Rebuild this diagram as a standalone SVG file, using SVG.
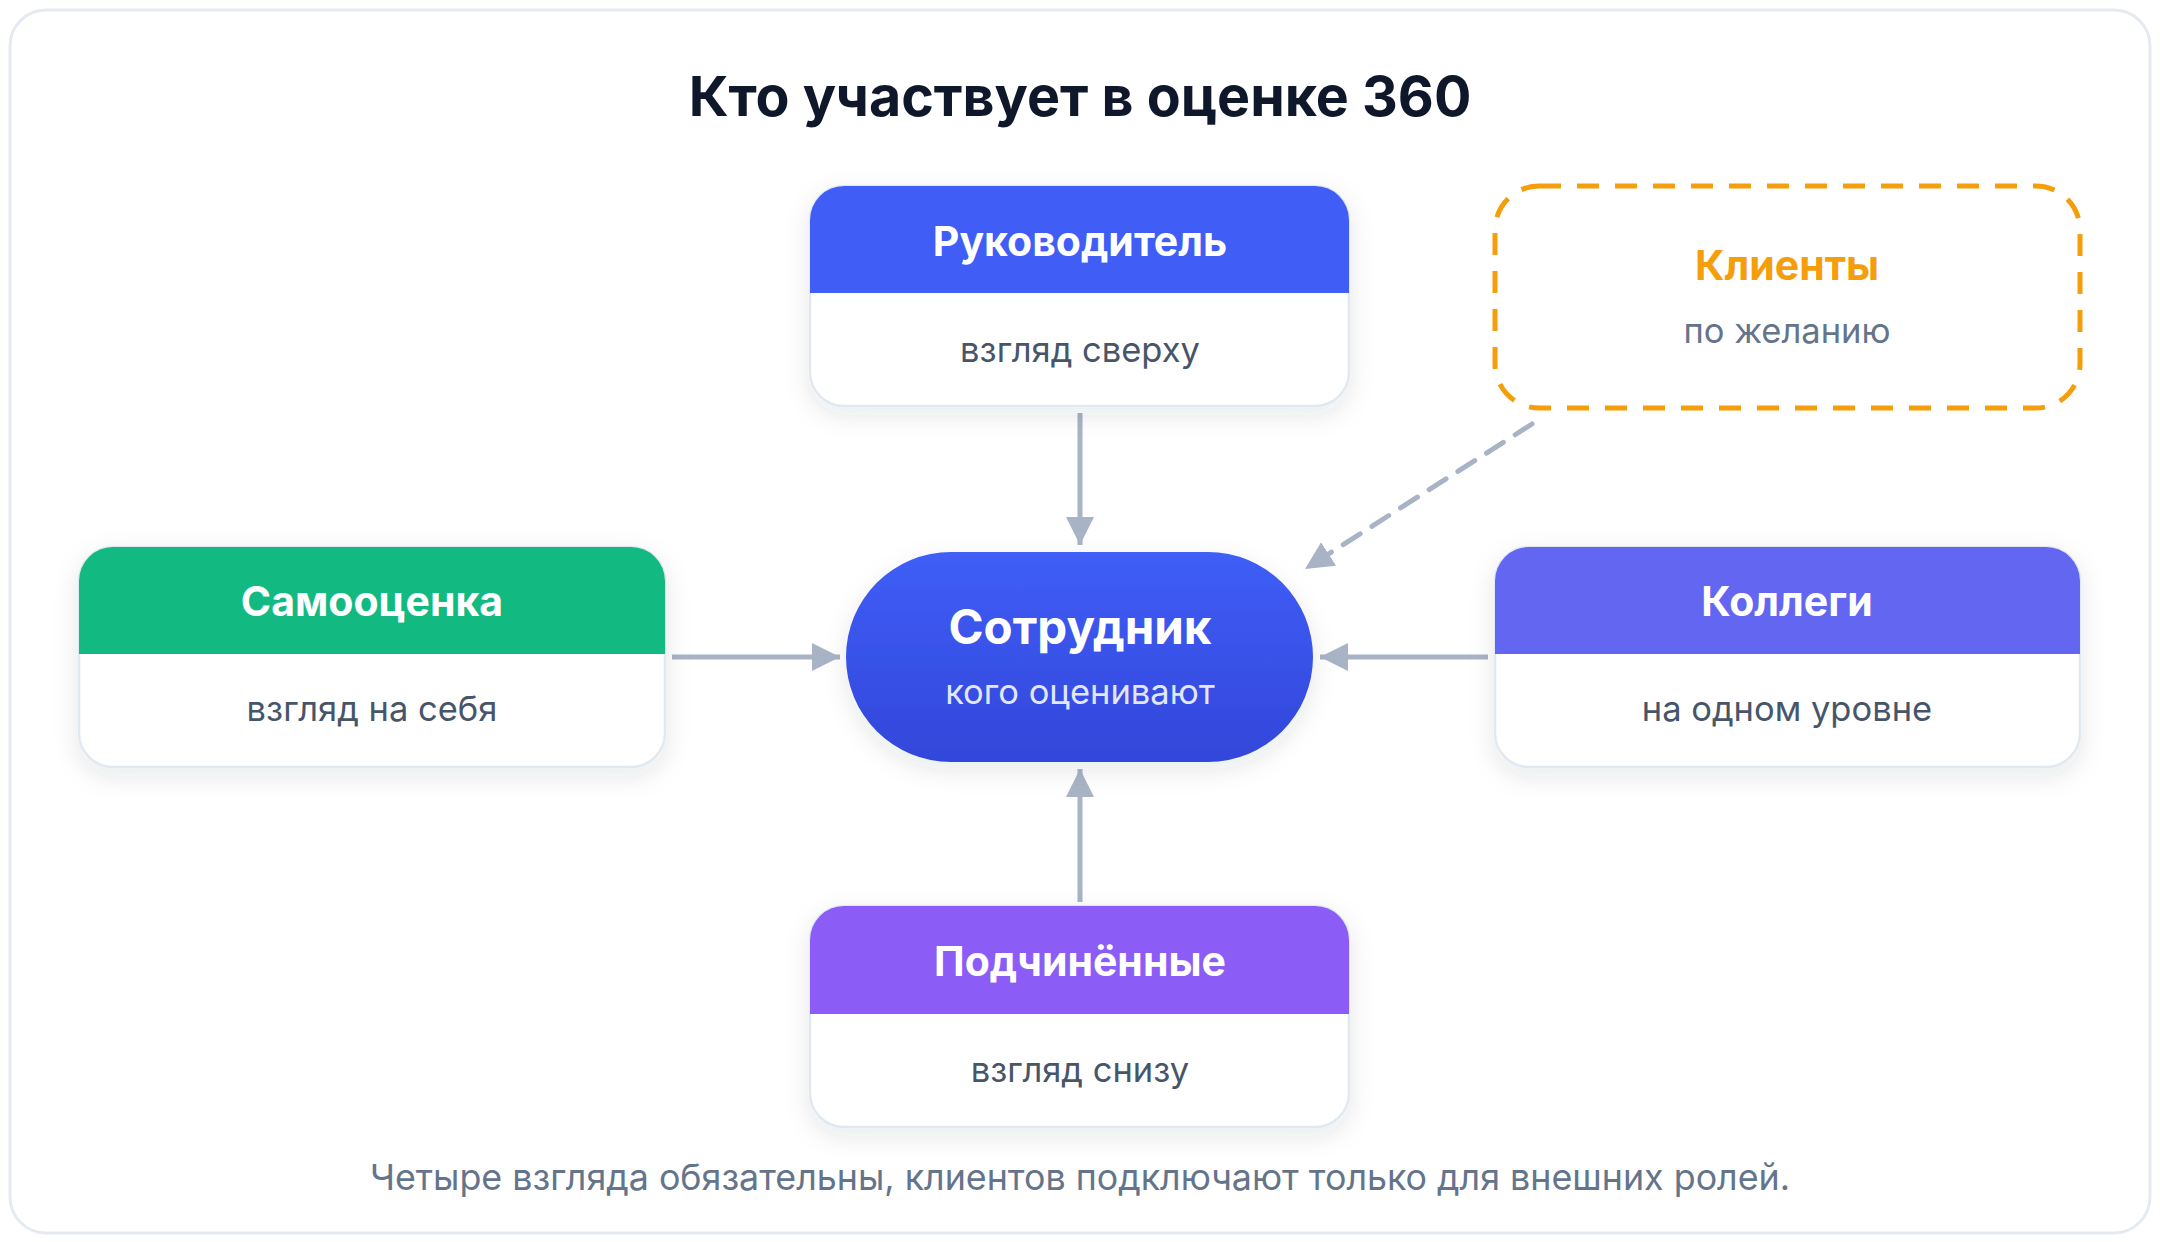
<svg xmlns="http://www.w3.org/2000/svg" width="2160" height="1242" viewBox="0 0 2160 1242">
<defs>
<filter id="sh" x="-20%" y="-20%" width="140%" height="150%">
<feDropShadow dx="0" dy="8" stdDeviation="12" flood-color="#1e293b" flood-opacity="0.10"/>
</filter>
<linearGradient id="pill" x1="0" y1="0" x2="0" y2="1">
<stop offset="0" stop-color="#3F5EF6"/>
<stop offset="1" stop-color="#3346DA"/>
</linearGradient>
<marker id="ah" viewBox="0 0 10 10" refX="10" refY="5" markerWidth="28" markerHeight="28" markerUnits="userSpaceOnUse" orient="auto">
<path d="M0,0 L10,5 L0,10 Z" fill="#A8B3C6"/>
</marker>
<style>
.card{fill:#ffffff;stroke:#E2E8F0;stroke-width:2.5;}
.hd{font-family:Inter,"Noto Sans",sans-serif;font-weight:700;font-size:41px;fill:#ffffff;text-anchor:middle;dominant-baseline:central;}
.bd{font-family:Inter,"Noto Sans",sans-serif;font-weight:400;font-size:34.5px;fill:#475569;text-anchor:middle;dominant-baseline:central;}
.conn{stroke:#A8B3C6;stroke-width:5;fill:none;}
</style>
</defs>
<rect x="0" y="0" width="2160" height="1242" fill="#ffffff"/>
<rect x="10" y="10" width="2140" height="1223" rx="36" fill="#ffffff" stroke="#E5EAF2" stroke-width="3"/>
<text x="1080" y="95" font-family="Inter,'Noto Sans',sans-serif" font-weight="700" font-size="55.5" fill="#0F172A" text-anchor="middle" dominant-baseline="central">Кто участвует в оценке 360</text>

<g id="connectors">
<line class="conn" x1="1080" y1="413" x2="1080" y2="545" marker-end="url(#ah)"/>
<line class="conn" x1="672" y1="657" x2="840" y2="657" marker-end="url(#ah)"/>
<line class="conn" x1="1488" y1="657" x2="1320" y2="657" marker-end="url(#ah)"/>
<line class="conn" x1="1080" y1="902" x2="1080" y2="769" marker-end="url(#ah)"/>
<line class="conn" x1="1532" y1="424" x2="1305" y2="569" stroke-dasharray="20 14" stroke-linecap="round" marker-end="url(#ah)"/>
</g>

<g id="node-manager">
<rect class="card" x="810" y="186" width="539" height="220" rx="34" filter="url(#sh)"/>
<path d="M810,293 V220 A34,34 0 0 1 844,186 H1315 A34,34 0 0 1 1349,220 V293 Z" fill="#405EF6"/>
<text class="hd" x="1080" y="241">Руководитель</text>
<text class="bd" x="1080" y="349">взгляд сверху</text>
</g>

<g id="node-clients">
<rect x="1495" y="186" width="585" height="222" rx="44" fill="#ffffff" stroke="#F59E0B" stroke-width="5" stroke-dasharray="22 16"/>
<text x="1787" y="265" font-family="Inter,'Noto Sans',sans-serif" font-weight="700" font-size="41" fill="#F59E0B" text-anchor="middle" dominant-baseline="central">Клиенты</text>
<text x="1787" y="330" font-family="Inter,'Noto Sans',sans-serif" font-size="34.5" fill="#64748B" text-anchor="middle" dominant-baseline="central">по желанию</text>
</g>

<g id="node-self">
<rect class="card" x="79" y="547" width="586" height="220" rx="34" filter="url(#sh)"/>
<path d="M79,654 V581 A34,34 0 0 1 113,547 H631 A34,34 0 0 1 665,581 V654 Z" fill="#12B981"/>
<text class="hd" x="372" y="601">Самооценка</text>
<text class="bd" x="372" y="708">взгляд на себя</text>
</g>

<g id="node-employee">
<rect x="846" y="552" width="467" height="210" rx="105" fill="url(#pill)" filter="url(#sh)"/>
<text x="1080" y="626" font-family="Inter,'Noto Sans',sans-serif" font-weight="700" font-size="47.5" fill="#ffffff" text-anchor="middle" dominant-baseline="central">Сотрудник</text>
<text x="1080" y="691" font-family="Inter,'Noto Sans',sans-serif" font-size="34.5" fill="#E0E7FF" text-anchor="middle" dominant-baseline="central">кого оценивают</text>
</g>

<g id="node-peers">
<rect class="card" x="1495" y="547" width="585" height="220" rx="34" filter="url(#sh)"/>
<path d="M1495,654 V581 A34,34 0 0 1 1529,547 H2046 A34,34 0 0 1 2080,581 V654 Z" fill="#6366F1"/>
<text class="hd" x="1787" y="601">Коллеги</text>
<text class="bd" x="1787" y="708">на одном уровне</text>
</g>

<g id="node-subordinates">
<rect class="card" x="810" y="906" width="539" height="221" rx="34" filter="url(#sh)"/>
<path d="M810,1014 V940 A34,34 0 0 1 844,906 H1315 A34,34 0 0 1 1349,940 V1014 Z" fill="#8B5CF6"/>
<text class="hd" x="1080" y="961">Подчинённые</text>
<text class="bd" x="1080" y="1069">взгляд снизу</text>
</g>

<text x="1080" y="1177" font-family="Inter,'Noto Sans',sans-serif" font-size="35.8" fill="#64748B" text-anchor="middle" dominant-baseline="central">Четыре взгляда обязательны, клиентов подключают только для внешних ролей.</text>
</svg>
